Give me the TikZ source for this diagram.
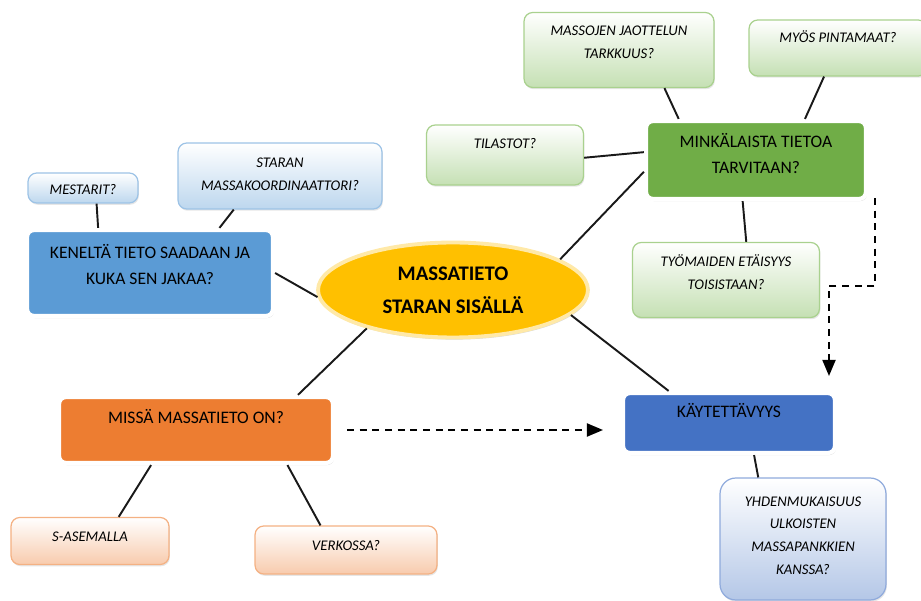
\documentclass[tikz,border=0pt]{standalone}
\usepackage{fontspec}
\setmainfont{Carlito}
\usepackage{tikz}
\usetikzlibrary{arrows}
\usetikzlibrary{shapes.geometric}
\usetikzlibrary{shadows}

\definecolor{kenblue}{HTML}{5B9BD5}
\definecolor{kayblue}{HTML}{4472C4}
\definecolor{minkgreen}{HTML}{70AD47}
\definecolor{misorange}{HTML}{ED7D31}
\definecolor{coreyellow}{HTML}{FFC000}
\definecolor{corerim}{HTML}{FFE9A8}
\definecolor{lightblue}{HTML}{BDD7EE}
\definecolor{lightbluerim}{HTML}{9DC3E6}
\definecolor{paleblue}{HTML}{B4C7E7}
\definecolor{palebluerim}{HTML}{8FAADC}
\definecolor{lightgreen}{HTML}{C5E0B4}
\definecolor{lightgreenrim}{HTML}{A9D18E}
\definecolor{lightorange}{HTML}{F8CBAD}
\definecolor{lightorangerim}{HTML}{F4B183}

\newcommand{\boxtxt}[4]{\parbox[c][#2][t]{#1}{\centering\vspace*{#3}#4}}

\begin{document}
\begin{tikzpicture}[x=0.02cm,y=-0.02cm]
    	\tikzstyle{mytopic} = 
    	[rectangle,
    	rounded corners = 4pt,
    	draw = white,
    	line width = 2.4pt,
    	inner sep = 0pt,
    	text = black,
    	font = \fontsize{10}{15}\selectfont,
    	drop shadow={shadow xshift=0.6pt,shadow yshift=-1.2pt,opacity=0.35}
    	]
    	\tikzstyle{mysub} = 
    	[rectangle,
    	rounded corners = 5pt,
    	line width = 0.7pt,
    	inner sep = 0pt,
    	text = black,
    	font = \fontsize{8.4}{13}\selectfont\itshape,
    	drop shadow={shadow xshift=0.5pt,shadow yshift=-1pt,opacity=0.2}
    	]
    	\tikzstyle{mycore} = 
    	[ellipse,
    	fill = coreyellow,
    	draw = corerim,
    	line width = 2.2pt,
    	minimum width = 5.4cm,
    	minimum height = 1.9cm,
    	inner sep = 0pt,
    	align = center,
    	font = \fontsize{11.8}{18.7}\selectfont\bfseries,
    	drop shadow={shadow xshift=0.6pt,shadow yshift=-1.2pt,opacity=0.3}
    	]
    	\tikzstyle{mylink} = 
    	[line width = 1.1pt,
    	draw = black!90]
    	\tikzstyle{mydash} = 
    	[line width = 1.1pt,
    	dash pattern = on 4pt off 3.2pt,
    	-triangle 45]

    	\useasboundingbox (0,0) rectangle (921,601);

        \node[mycore] (core) at (453,290) {MASSATIETO\\STARAN SISÄLLÄ};

        \node[mytopic, fill=kenblue] (ken) at (150,273)
        	{\boxtxt{4.92cm}{1.72cm}{0.28cm}{KENELTÄ TIETO SAADAAN JA\\KUKA SEN JAKAA?}};
        \node[mytopic, fill=minkgreen] (mink) at (756,160)
        	{\boxtxt{4.4cm}{1.56cm}{0.24cm}{MINKÄLAISTA TIETOA\\TARVITAAN?}};
        \node[mytopic, fill=misorange] (mis) at (196,430)
        	{\boxtxt{5.48cm}{1.32cm}{0.24cm}{MISSÄ MASSATIETO ON?}};
        \node[mytopic, fill=kayblue] (kay) at (729,423)
        	{\boxtxt{4.24cm}{1.2cm}{0.2cm}{KÄYTETTÄVYYS}};

        \node[mysub, top color=white, bottom color=lightblue, draw=lightbluerim] (mest) at (83,188)
        	{\boxtxt{2.2cm}{0.6cm}{0.22cm}{MESTARIT?}};
        \node[mysub, top color=white, bottom color=lightblue, draw=lightbluerim] (star) at (280,176)
        	{\boxtxt{4.08cm}{1.32cm}{0.3cm}{STARAN\\MASSAKOORDINAATTORI?}};
        \node[mysub, top color=white, bottom color=lightgreen, draw=lightgreenrim] (til) at (505,155)
        	{\boxtxt{3.14cm}{1.2cm}{0.27cm}{TILASTOT?}};
        \node[mysub, top color=white, bottom color=lightgreen, draw=lightgreenrim] (mas) at (619,50)
        	{\boxtxt{3.8cm}{1.5cm}{0.27cm}{MASSOJEN JAOTTELUN\\TARKKUUS?}};
        \node[mysub, top color=white, bottom color=lightgreen, draw=lightgreenrim] (myos) at (838,48)
        	{\boxtxt{3.56cm}{1.12cm}{0.21cm}{MYÖS PINTAMAAT?}};
        \node[mysub, top color=white, bottom color=lightgreen, draw=lightgreenrim] (tyo) at (726,280)
        	{\boxtxt{3.74cm}{1.5cm}{0.25cm}{TYÖMAIDEN ETÄISYYS\\TOISISTAAN?}};
        \node[mysub, top color=white, bottom color=paleblue, draw=palebluerim, rounded corners=9pt] (yhd) at (803,539)
        	{\boxtxt{3.32cm}{2.44cm}{0.37cm}{YHDENMUKAISUUS\\ULKOISTEN\\MASSAPANKKIEN\\KANSSA?}};
        \node[mysub, top color=white, bottom color=lightorange, draw=lightorangerim] (sas) at (90,541)
        	{\boxtxt{3.16cm}{0.94cm}{0.29cm}{S-ASEMALLA}};
        \node[mysub, top color=white, bottom color=lightorange, draw=lightorangerim] (ver) at (346,550)
        	{\boxtxt{3.64cm}{0.96cm}{0.29cm}{VERKOSSA?}};

        \coordinate (jog) at (829,286);

        \draw[mylink]
        (mest.-49)		-- (ken.139)
        (star.-144)		-- (ken.33)
        (ken.east)		-- (core.183)
        (core.16)		-- (mink.-174)
        (til.-2)		-- (mink.176)
        (mas.-40)		-- (mink.152)
        (myos.-116)		-- (mink.40)
        (mink.-108)		-- (tyo.62)
        (core.-12)		-- (kay.152)
        (core.-156)		-- (mis.19)
        (mis.-142)		-- (sas.40)
        (mis.-21)		-- (ver.136)
        (kay.-52)		-- (yhd.126)
		;
        \draw[mydash, shorten <=0.24cm, shorten >=0.36cm]
        (mis.east) -- (mis.east -| kay.west);
        \draw[mydash, shorten >=0.3cm]
        ([xshift=0.14cm, yshift=0.06cm]mink.south east) |- (jog) -- (jog |- kay.north);
    \end{tikzpicture}
\end{document}
